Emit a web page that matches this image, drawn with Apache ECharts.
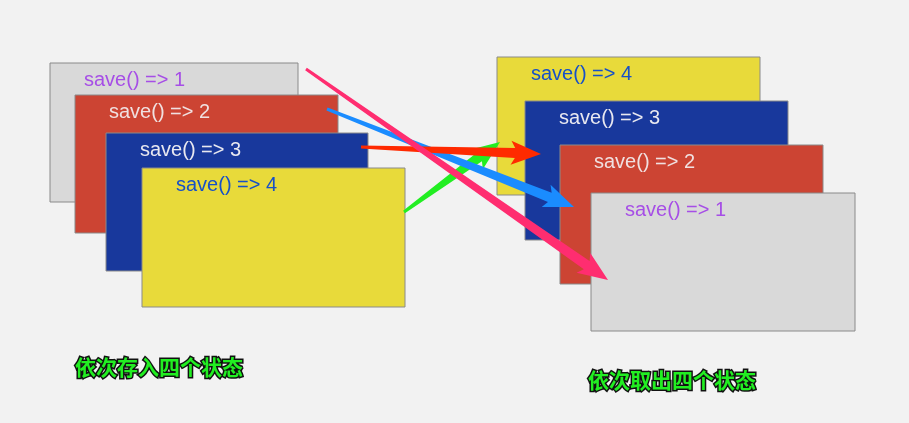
<!DOCTYPE html>
<html><head><meta charset="utf-8">
<script src="https://cdn.jsdelivr.net/npm/echarts@6/dist/echarts.min.js"></script>
<style>html,body{margin:0;background:#f2f2f2}#c{width:909px;height:423px}</style>
</head><body><div id="c"></div>
<script>
// boxes: [x0, y0, x1, y1, fill, label, labelColor]
const boxes = [
  [50, 63, 298, 202, '#d9d9d9', 'save() => 1', '#a64ee6'],
  [75, 95, 338, 233, '#cc4433', 'save() => 2', '#f0e0e0'],
  [106, 133, 368, 271, '#18389c', 'save() => 3', '#e8e8f0'],
  [142, 168, 405, 307, '#e8da3a', 'save() => 4', '#1650c8'],
  [497, 57, 760, 195, '#e8da3a', 'save() => 4', '#1650c8'],
  [525, 101, 788, 240, '#18389c', 'save() => 3', '#e8e8f0'],
  [560, 145, 823, 284, '#cc4433', 'save() => 2', '#f0e0e0'],
  [591, 193, 855, 331, '#d9d9d9', 'save() => 1', '#a64ee6']
];
// arrows: [x0, y0, x1, y1, colour]
const arrows = [
  [404, 212, 500, 142, '#22ee22'],
  [327, 109, 574, 207, '#1a8cff'],
  [361, 147, 541, 154, '#ff2a00'],
  [306, 69, 608, 280, '#ff2d70']
];
const captions = [
  [75, 367, '依次存入四个状态'],
  [588, 380, '依次取出四个状态']
];

const chart = echarts.init(document.getElementById('c'));

function boxItem(params, api) {
  const d = boxes[params.dataIndex];
  const p0 = api.coord([d[0], d[1]]), p1 = api.coord([d[2], d[3]]);
  return {
    type: 'group', children: [
      {type: 'rect', shape: {x: p0[0], y: p0[1], width: p1[0] - p0[0], height: p1[1] - p0[1]},
       style: {fill: d[4], stroke: '#8a8a8a', lineWidth: 1}},
      {type: 'text', x: p0[0] + 34, y: p0[1] + 17,
       style: {text: d[5], fill: d[6], font: '500 20px "Liberation Sans", Arial, sans-serif', textVerticalAlign: 'middle'}}
    ]
  };
}

function arrowItem(params, api) {
  const d = arrows[params.dataIndex];
  const a = api.coord([d[0], d[1]]), b = api.coord([d[2], d[3]]);
  const dx = b[0] - a[0], dy = b[1] - a[1], len = Math.hypot(dx, dy);
  const ux = dx / len, uy = dy / len, nx = -uy, ny = ux;
  const hl = 26, w0 = 1.5, w1 = 5, wh = 12;
  const hx = b[0] - ux * hl, hy = b[1] - uy * hl;
  const pts = [
    [a[0] + nx * w0, a[1] + ny * w0],
    [hx + nx * w1, hy + ny * w1],
    [hx + nx * wh - ux * 4, hy + ny * wh - uy * 4],
    b,
    [hx - nx * wh - ux * 4, hy - ny * wh - uy * 4],
    [hx - nx * w1, hy - ny * w1],
    [a[0] - nx * w0, a[1] - ny * w0]
  ];
  return {type: 'polygon', shape: {points: pts}, style: {fill: d[4]}};
}

function captionItem(params, api) {
  const d = captions[params.dataIndex];
  const p = api.coord([d[0], d[1]]);
  return {type: 'text', x: p[0], y: p[1],
    style: {text: d[2], fill: '#22ee22', stroke: '#111', lineWidth: 3,
      font: 'bold 21px "Noto Sans CJK SC", sans-serif', textVerticalAlign: 'middle',
      shadowColor: 'rgba(0,0,0,0.5)', shadowBlur: 4, shadowOffsetX: 2, shadowOffsetY: 2}};
}

chart.setOption({
  backgroundColor: '#f2f2f2',
  animation: false,
  grid: {left: 0, right: 0, top: 0, bottom: 0},
  xAxis: {type: 'value', min: 0, max: 909, show: false},
  yAxis: {type: 'value', min: 0, max: 423, inverse: true, show: false},
  series: [
    {type: 'custom', renderItem: boxItem, data: boxes.map((b, i) => i), z: 1},
    {type: 'custom', renderItem: arrowItem, data: arrows.map((a, i) => i), z: 2},
    {type: 'custom', renderItem: captionItem, data: captions.map((c, i) => i), z: 3}
  ]
});
</script></body></html>
